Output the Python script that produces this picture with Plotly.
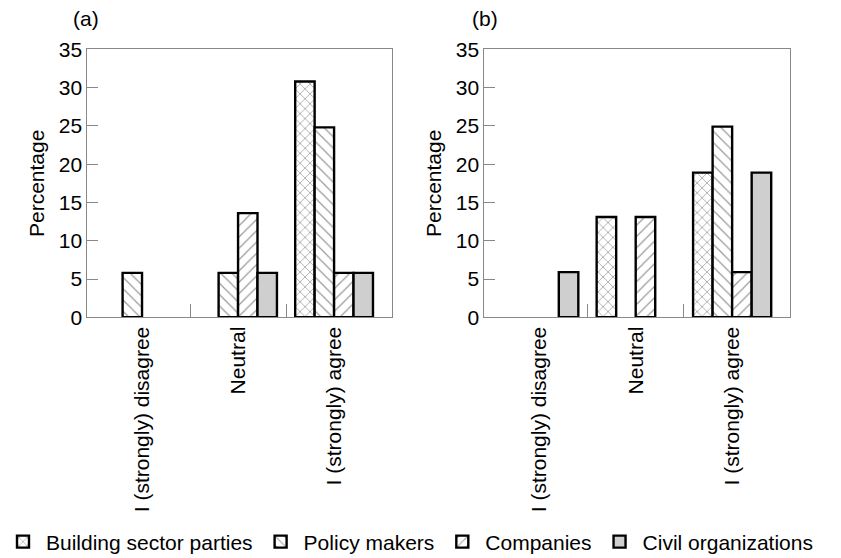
import plotly.graph_objects as go

categories = ["I (strongly) disagree", "Neutral", "I (strongly) agree"]
series_names = ["Building sector parties", "Policy makers", "Companies", "Civil organizations"]

# Panel (a)
a_building = [0, 0, 30.8]
a_policy = [5.8, 5.8, 24.8]
a_companies = [0, 13.6, 5.8]
a_civil = [0, 5.8, 5.8]

# Panel (b)
b_building = [0, 13.1, 18.9]
b_policy = [0, 0, 24.9]
b_companies = [0, 13.1, 5.9]
b_civil = [5.9, 0, 18.9]

y_ticks = [0, 5, 10, 15, 20, 25, 30, 35]

# page body has an 8px default margin, so the figure is 8px smaller than the window
W, H = 833, 550
MB = 32            # bottom margin holding the legend
PH = H - MB        # plot-area height

FONT = "Liberation Sans, Arial, Helvetica, sans-serif"
styles = [
    dict(color="white", pattern=dict(shape="x", fgcolor="#333", bgcolor="white", size=7, solidity=0.2)),
    dict(color="white", pattern=dict(shape="\\", fgcolor="#333", bgcolor="white", size=8, solidity=0.15)),
    dict(color="white", pattern=dict(shape="/", fgcolor="#333", bgcolor="white", size=8, solidity=0.15)),
    dict(color="#cfcfcf"),
]

def nz(vals):
    return [v if v > 0 else None for v in vals]

fig = go.Figure()
xpos = list(range(len(categories)))
panels = [
    ("x", "y", [a_building, a_policy, a_companies, a_civil], True),
    ("x2", "y2", [b_building, b_policy, b_companies, b_civil], False),
]
for xa, ya, series, show in panels:
    for name, vals, st in zip(series_names, series, styles):
        fig.add_trace(go.Bar(
            x=xpos, y=nz(vals), name=name, legendgroup=name, showlegend=show,
            xaxis=xa, yaxis=ya, offsetgroup=name,
            marker=dict(line=dict(color="black", width=2.4), **st),
            hoverinfo="skip",
        ))

common_x = dict(
    range=[-0.57, 2.6], tickmode="array", tickvals=xpos, ticktext=categories,
    ticks="", tickangle=-90, showline=True, linecolor="#888", linewidth=1, mirror=True,
    showgrid=False, zeroline=False, tickfont=dict(size=21, color="black", family=FONT),
    minor=dict(tickvals=[0.5, 1.5], ticks="inside", ticklen=13, tickcolor="#888", tickwidth=1, showgrid=False),
    automargin=False,
)
common_y = dict(
    range=[0, 35], tickmode="array", tickvals=y_ticks, ticks="inside", ticklen=11,
    tickcolor="#888", tickwidth=1, showline=True, linecolor="#888", linewidth=1, mirror=True,
    showgrid=False, zeroline=False, tickfont=dict(size=21, color="black", family=FONT),
    title=dict(text="Percentage", font=dict(size=21, color="black", family=FONT), standoff=8),
    domain=[1 - 309.3 / PH, 1 - 41.3 / PH], automargin=False,
)

fig.update_layout(
    width=W, height=H,
    margin=dict(l=0, r=0, t=0, b=MB, autoexpand=False),
    paper_bgcolor="white", plot_bgcolor="white",
    barmode="group", bargap=0.19, bargroupgap=0,
    font=dict(family=FONT, size=21, color="black"),
    xaxis=dict(domain=[79.3 / W, 383.7 / W], anchor="y", **common_x),
    xaxis2=dict(domain=[476.3 / W, 782 / W], anchor="y2", **common_x),
    yaxis=dict(anchor="x", **common_y),
    yaxis2=dict(anchor="x2", **common_y),
    legend=dict(orientation="h", x=-8 / W, xanchor="left", y=-(534 - PH) / PH, yanchor="middle",
                font=dict(size=21, family=FONT, color="black"), itemwidth=36,
                traceorder="normal", tracegroupgap=0),
    annotations=[
        dict(text="(a)", x=77.5 / W, y=1 + (PH - 11 - PH) / PH, xref="paper", yref="paper",
             xanchor="center", yanchor="middle",
             showarrow=False, font=dict(size=21, family=FONT, color="black")),
        dict(text="(b)", x=477 / W, y=1 + (PH - 11 - PH) / PH, xref="paper", yref="paper",
             xanchor="center", yanchor="middle",
             showarrow=False, font=dict(size=21, family=FONT, color="black")),
    ],
)

fig.write_html("out.html")
